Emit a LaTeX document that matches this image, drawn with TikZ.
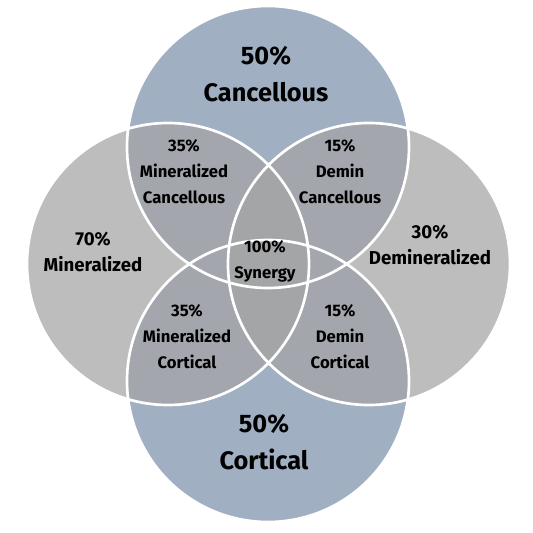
\documentclass[tikz,border=0pt]{standalone}
\usepackage{fontspec}
\setmainfont{Fira Sans}
\usepackage{tikz}

\definecolor{bonegray}{RGB}{165,165,166}
\definecolor{boneblue}{RGB}{161,175,194}

\begin{document}
\begin{tikzpicture}[x=0.75pt, y=0.75pt,
		ring/.style={draw=white, line width=2pt},
		big/.style={align=center, font=\bfseries\fontsize{19}{28}\selectfont},
		mid/.style={align=center, font=\bfseries\fontsize{14}{20}\selectfont},
		small/.style={align=center, font=\bfseries\fontsize{12.5}{19.5}\selectfont}]
	\useasboundingbox[fill=white] (0,0) rectangle (533,533);
	
	% 圆心
	\coordinate (T) at (268,386);
	\coordinate (B) at (268,152);
	\coordinate (L) at (168,269);
	\coordinate (R) at (369,269);
	
	% 松质 / 皮质
	\fill[boneblue] (T) circle (141);
	\fill[boneblue] (B) circle (141);
	
	% 矿化 / 脱矿
	\fill[bonegray, opacity=0.73] (L) circle (141);
	\fill[bonegray, opacity=0.73] (R) circle (141);
	
	% 白色边线
	\draw[ring] (T) circle (141);
	\draw[ring] (B) circle (141);
	\draw[ring] (L) circle (141);
	\draw[ring] (R) circle (141);
	
	% 文字
	\node[big] (canc) at (266,459) {50\%\\Cancellous};
	\node[big] (cort) at (264,91) {50\%\\Cortical};
	\node[mid] (mine) at (93,281) {70\%\\Mineralized};
	\node[mid] (demi) at (430,288) {30\%\\Demineralized};
	\node[small] (mc) at (184,361) {35\%\\Mineralized\\Cancellous};
	\node[small] (dc) at (340,361) {15\%\\Demin\\Cancellous};
	\node[small] (mco) at (187,196) {35\%\\Mineralized\\Cortical};
	\node[small] (dco) at (340,196) {15\%\\Demin\\Cortical};
	\node[small] (syn) at (265,272) {100\%\\Synergy};
\end{tikzpicture}
\end{document}
